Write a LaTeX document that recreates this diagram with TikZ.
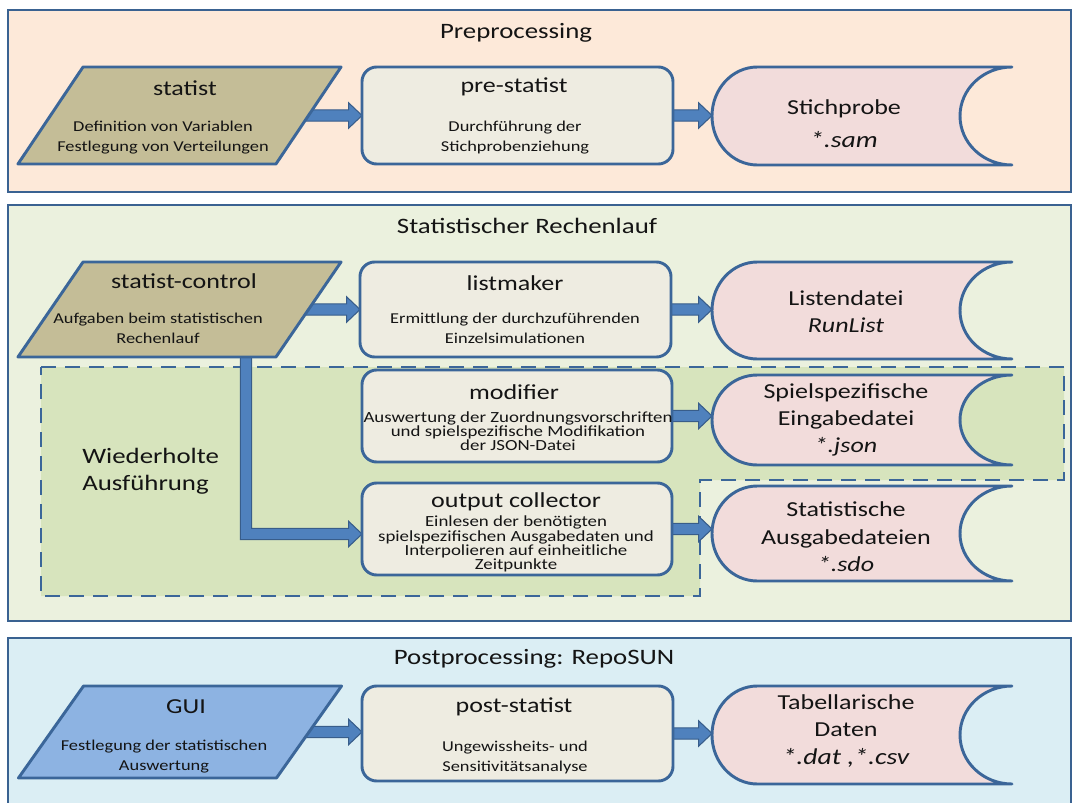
\documentclass[tikz,border=0pt]{standalone}
\usepackage{fontspec}
\setmainfont{Carlito}[FakeStretch=1.22]
\usetikzlibrary{calc}
\pgfdeclarelayer{bg}
\pgfdeclarelayer{arr}
\pgfsetlayers{bg,arr,main}
\definecolor{panelborder}{HTML}{3A6291}
\definecolor{shapeborder}{HTML}{3B6699}
\definecolor{prefill}{HTML}{FDE9D9}
\definecolor{midfill}{HTML}{EBF1DE}
\definecolor{loopfill}{HTML}{D7E4BD}
\definecolor{postfill}{HTML}{DBEEF4}
\definecolor{tanfill}{HTML}{C4BD97}
\definecolor{guifill}{HTML}{8DB3E2}
\definecolor{procfill}{HTML}{EEECE1}
\definecolor{storefill}{HTML}{F2DCDB}
\definecolor{arrowfill}{HTML}{4F81BD}
\definecolor{arrowdraw}{HTML}{385D8A}
\definecolor{txt}{HTML}{141414}
\tikzset{
  panel/.style={draw=panelborder, line width=2.2pt},
  anchorbox/.style={inner sep=0pt, outer sep=0pt, minimum width=#1},
  procbox/.style={draw=shapeborder, fill=procfill, line width=2.2pt, rounded corners=11pt, inner sep=0pt, outer sep=0pt},
  shapeline/.style={draw=shapeborder, line width=2.2pt, line join=round},
  fatstyle/.style={fill=arrowfill, draw=arrowdraw, line width=0.8pt, line join=miter},
  loopline/.style={draw=shapeborder, line width=2.2pt, dash pattern=on 11pt off 7pt},
  ptitle/.style={text=txt, font=\fontsize{16.5}{20}\selectfont, inner sep=0pt},
  ntitle/.style={text=txt, font=\fontsize{16}{19}\selectfont, inner sep=0pt},
  nsub/.style={text=txt, font=\fontsize{11.3}{15}\selectfont, align=center, inner sep=0pt},
  nsubtight/.style={text=txt, font=\fontsize{11.6}{10.6}\selectfont, align=center, inner sep=0pt},
  stext/.style={text=txt, font=\fontsize{16}{20.5}\selectfont, align=center, inner sep=0pt},
}
\newcommand{\fatarrow}[2]{%
  \path[fatstyle] let \p1=(#1), \p2=(#2) in
    (\x1,\y1+4.2pt) -- (\x2-10pt,\y1+4.2pt) -- (\x2-10pt,\y1+9.5pt) -- (\x2,\y1)
    -- (\x2-10pt,\y1-9.5pt) -- (\x2-10pt,\y1-4.2pt) -- (\x1,\y1-4.2pt) -- cycle;}
\newcommand{\fatbent}[2]{%
  \path[fatstyle] let \p1=(#1), \p2=(#2) in
    (\x1-4.2pt,\y1) -- (\x1-4.2pt,\y2-4.2pt) -- (\x2-10pt,\y2-4.2pt) -- (\x2-10pt,\y2-9.5pt)
    -- (\x2,\y2) -- (\x2-10pt,\y2+9.5pt) -- (\x2-10pt,\y2+4.2pt) -- (\x1+4.2pt,\y2+4.2pt)
    -- (\x1+4.2pt,\y1) -- cycle;}
\newcommand{\paragram}[2]{%
  \path[shapeline, fill=#2] let \p1=(#1.north west), \p2=(#1.south east) in
    (\x1+24.4pt,\y1) -- (\x2+24.4pt,\y1) -- (\x2-24.4pt,\y2) -- (\x1-24.4pt,\y2) -- cycle;}
\newcommand{\storeshape}[1]{%
  \path[shapeline, fill=storefill] let \p1=(#1.north west), \p2=(#1.south east) in
    (\x1+34pt,\y1) -- (\x2,\y1)
    arc[start angle=90, end angle=270, x radius=39pt, y radius={(\y1-\y2)/2}]
    -- (\x1+34pt,\y2)
    arc[start angle=270, end angle=90, x radius=34pt, y radius={(\y1-\y2)/2}] -- cycle;}
\begin{document}
\begin{tikzpicture}[x=0.75pt, y=-0.75pt]
\useasboundingbox (0,0) rectangle (1076,803);
% ---------- anchor nodes (invisible) ----------
\node[anchorbox=193.5pt, minimum height=72.75pt] (statist) at (179.5,115.5) {};
\node[anchorbox=225pt, minimum height=73.5pt] (stich) at (862,116) {};
\node[anchorbox=193.5pt, minimum height=71.25pt] (ctrl) at (179.5,309.5) {};
\node[anchorbox=225pt, minimum height=72.75pt] (listd) at (862,310.5) {};
\node[anchorbox=225pt, minimum height=67.5pt] (spiel) at (862,420) {};
\node[anchorbox=225pt, minimum height=71.25pt] (ausg) at (862,533.5) {};
\node[anchorbox=193.5pt, minimum height=69pt] (gui) at (180,732) {};
\node[anchorbox=225pt, minimum height=73.5pt] (tab) at (862,735) {};
% process boxes (main layer)
\node[procbox, minimum width=233.25pt, minimum height=72.75pt] (prestat) at (517.5,115.5) {};
\node[procbox, minimum width=233.25pt, minimum height=71.25pt] (listm) at (515.5,309.5) {};
\node[procbox, minimum width=232.5pt, minimum height=69pt] (modif) at (517,416) {};
\node[procbox, minimum width=232.5pt, minimum height=69pt] (outc) at (517,529) {};
\node[procbox, minimum width=233.25pt, minimum height=71.25pt] (post) at (517.5,733.5) {};
% ---------- background: panels ----------
\begin{pgfonlayer}{bg}
  \path[panel, fill=prefill] (8,10) rectangle (1071,192);
  \path[panel, fill=midfill] (8,205) rectangle (1071,621);
  \path[panel, fill=postfill] (8,638) rectangle (1071,815);
  \path[fill=loopfill] (41,367) -- (1064,367) -- (1064,480) -- (700,480) -- (700,596) -- (41,596) -- cycle;
  \path[loopline] (41,367) -- (1064,367) -- (1064,480) -- (700,480) -- (700,596) -- (41,596) -- cycle;
\end{pgfonlayer}
% ---------- arrows ----------
\begin{pgfonlayer}{arr}
  \fatarrow{[xshift=-8pt]statist.east}{prestat.west}
  \fatarrow{prestat.east}{stich.west}
  \fatarrow{[xshift=-8pt]ctrl.east}{listm.west}
  \fatarrow{listm.east}{listd.west}
  \fatarrow{modif.east}{spiel.west}
  \fatarrow{outc.east}{ausg.west}
  \fatbent{[xshift=49.9pt,yshift=4pt]ctrl.south}{[yshift=-3.75pt]outc.west}
  \fatarrow{[xshift=-8pt]gui.east}{post.west}
  \fatarrow{post.east}{tab.west}
\end{pgfonlayer}
% ---------- shapes ----------
\paragram{statist}{tanfill}
\paragram{ctrl}{tanfill}
\paragram{gui}{guifill}
\storeshape{stich}
\storeshape{listd}
\storeshape{spiel}
\storeshape{ausg}
\storeshape{tab}
% ---------- texts ----------
\node[ptitle] (ttlpre) at (516,33) {Preprocessing};
\node[ntitle] (statistt) at (185,88) {statist};
\node[nsub] (statists) at (163,138) {Definition von Variablen\\Festlegung von Verteilungen};
\node[ntitle] (prestatt) at (514,87) {pre-statist};
\node[nsub] (prestats) at (515,138) {Durchführung der\\Stichprobenziehung};
\node[stext, font=\fontsize{16}{25}\selectfont] (sticht) at (844,124) {Stichprobe\\{\fontsize{17}{20}\selectfont\itshape *.sam}};

\node[ptitle] (ttlmid) at (527,226) {Statistischer Rechenlauf};
\node[ntitle] (ctrlt) at (184,281) {statist-control};
\node[nsub] (ctrls) at (158,328) {Aufgaben beim statistischen\\Rechenlauf};
\node[ntitle] (listmt) at (515,283) {listmaker};
\node[nsub] (listms) at (515,328) {Ermittlung der durchzuführenden\\Einzelsimulationen};
\node[stext] (listdt) at (846,312) {Listendatei\\{\itshape RunList}};
\node[ptitle, align=left, anchor=west, font=\fontsize{16.5}{20}\selectfont] (loopt) at (82,471) {Wiederholte\\Ausführung};
\node[ntitle] (modift) at (514,392) {modifier};
\node[nsubtight] (modifs) at (518,431) {Auswertung der Zuordnungsvorschriften\\und spielspezifische Modifikation\\der JSON-Datei};
\node[stext] (spielt) at (846,420) {Spielspezifische\\Eingabedatei\\{\itshape *.json}};
\node[ntitle] (outct) at (516,502) {output collector};
\node[nsubtight] (outcs) at (516,544) {Einlesen der benötigten\\spielspezifischen Ausgabedaten und\\Interpolieren auf einheitliche\\Zeitpunkte};
\node[stext] (ausgt) at (846,537) {Statistische\\Ausgabedateien\\{\itshape *.sdo}};

\node[ptitle] (ttlpost) at (534,659) {Postprocessing: RepoSUN};
\node[ntitle] (guit) at (186,707) {GUI};
\node[nsub] (guis) at (164,757) {Festlegung der statistischen\\Auswertung};
\node[ntitle] (postt) at (514,707) {post-statist};
\node[nsub] (posts) at (515,757) {Ungewissheits- und\\Sensitivitätsanalyse};
\node[stext] (tabt) at (846,731) {Tabellarische\\Daten\\{\fontsize{17}{20}\selectfont\itshape *.dat ,*.csv}};
\end{tikzpicture}
\end{document}
